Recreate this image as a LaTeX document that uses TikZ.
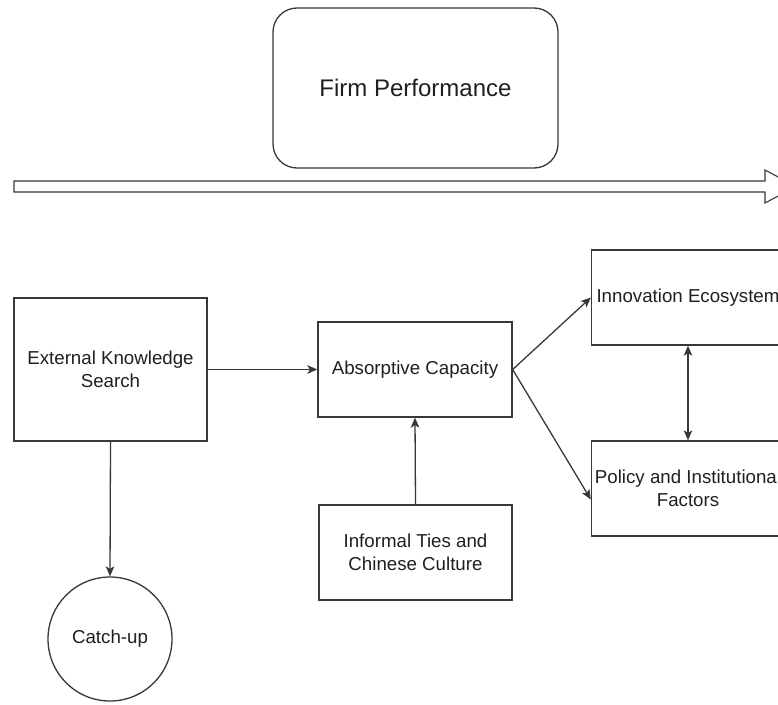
\documentclass[tikz,border=0pt]{standalone}
\usepackage{fontspec}
\setmainfont{Liberation Sans}
\usetikzlibrary{arrows.meta}

\tikzset{
  linecol/.style={draw=black!78, line width=1.3pt},
  txt/.style={text=black!88, font=\fontsize{18.7}{22.4}\selectfont, align=center, inner sep=0pt},
  box/.style={linecol, txt, rectangle, minimum width=193pt, minimum height=95pt},
  tip/.style={Stealth[length=10pt,width=8.5pt,inset=2.5pt]},
  conn/.style={linecol, -{Stealth[length=10pt,width=8.5pt,inset=2.5pt]}},
  dconn/.style={linecol, {Stealth[length=10pt,width=8.5pt,inset=2.5pt]}-{Stealth[length=10pt,width=8.5pt,inset=2.5pt]}},
}

\begin{document}
\begin{tikzpicture}[x=1pt, y=-1pt]
  \useasboundingbox (0,0) rectangle (778,704);
  \clip (0,0) rectangle (778,704);

  % outcome at the top
  \node[linecol, txt, rectangle, rounded corners=24pt, minimum width=285pt,
        minimum height=160pt, font=\fontsize{24}{28.8}\selectfont]
        (fp) at (415.5,88) {Firm Performance};

  % hollow time arrow
  \draw[linecol, line width=1.1pt, line join=miter]
    (14,181) -- (765,181) -- (765,170) -- (796,186.5) -- (765,203)
    -- (765,192) -- (14,192) -- cycle;

  % framework boxes
  \node[box, minimum height=143pt] (ext) at (110.5,369.5) {External Knowledge\\Search};
  \node[box, minimum width=194pt] (abs) at (415,369.5) {Absorptive Capacity};
  \node[box] (inf) at (415.5,552.5) {Informal Ties and\\Chinese Culture};
  \node[box] (inno) at (688,297.5) {Innovation Ecosystem};
  \node[box] (pol) at (688,488.5) {Policy and Institutional\\Factors};
  \node[linecol, txt, circle, minimum size=124pt] (cu) at (110,639) {Catch-up};

  % connectors
  \draw[conn] (ext.east) -- (abs.west);
  \draw[conn] (ext.south) -- (cu.north);
  \draw[conn] (inf.north) -- (abs.south);
  \draw[conn] (abs.east) -- (inno.west);
  \draw[conn] (abs.east) -- ([yshift=-11pt]pol.west);
  \draw[dconn] (inno.south) -- (pol.north);
\end{tikzpicture}
\end{document}
